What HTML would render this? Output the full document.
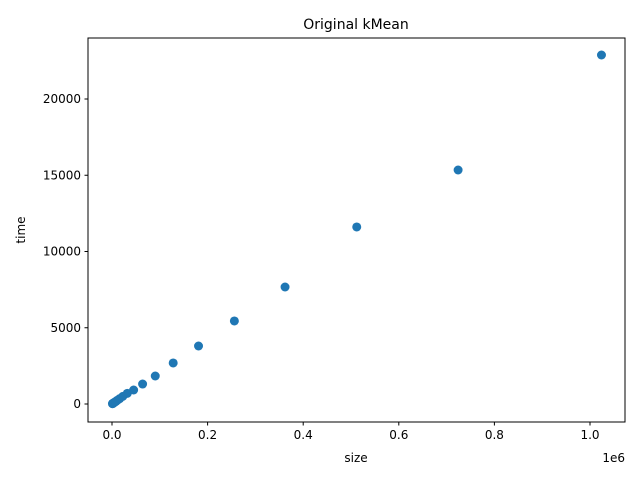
<!DOCTYPE html>
<html><head><meta charset="utf-8"><style>
body{margin:0;background:#fff}
svg{display:block;font-family:"DejaVu Sans","Liberation Sans",sans-serif}
</style></head><body>
<svg id="c" width="640" height="480" xmlns="http://www.w3.org/2000/svg">
<rect width="640" height="480" fill="#fff"/>
<text x="356" y="29" font-size="14" text-anchor="middle">Original kMean</text>
<g id="marks"></g>
<g id="axes"></g>
<rect x="88" y="38" width="537" height="384" fill="none" stroke="#000" stroke-width="1"/>
<text x="356" y="462" font-size="12" text-anchor="middle">size</text>
<text x="25" y="230" font-size="12" text-anchor="middle" transform="rotate(-90 25 230)">time</text>
<text x="625" y="462" font-size="12" text-anchor="end">1e6</text>
</svg>
<script>
const sizes=[1000,1414,2000,2828,4000,5657,8000,11314,16000,22627,32000,45255,64000,90510,128000,181019,256000,362039,512000,724077,1024000];
const times=[20,30,42,60,85,120,170,250,350,500,700,918,1311,1836,2689,3803,5443,7672,11607,15344,22885];
const xTicks=[0,0.2e6,0.4e6,0.6e6,0.8e6,1.0e6];
const xTickLabels=["0.0","0.2","0.4","0.6","0.8","1.0"];
const yTicks=[0,5000,10000,15000,20000];
const yTickLabels=["0","5000","10000","15000","20000"];
const NS="http://www.w3.org/2000/svg";
const X=v=>112+v*478/1e6;
const Y=v=>404-v*305/20000;
const marks=document.getElementById('marks'),axes=document.getElementById('axes');
function mk(t,a,p){const e=document.createElementNS(NS,t);for(const k in a)e.setAttribute(k,a[k]);p.appendChild(e);return e;}
sizes.forEach((s,i)=>{const c=mk('circle',{cx:X(s),cy:Y(times[i]),r:4.5,fill:'#1f77b4'},marks);

});
xTicks.forEach((t,i)=>{const l=mk('line',{x1:X(t),x2:X(t),y1:422,y2:425.5,stroke:'#000'},axes);


const tx=mk('text',{x:X(t),y:439,'font-size':12,'text-anchor':'middle'},axes);tx.textContent=xTickLabels[i];

});
yTicks.forEach((t,i)=>{const l=mk('line',{x1:84.5,x2:88,y1:Y(t),y2:Y(t),stroke:'#000'},axes);


const tx=mk('text',{x:81,y:Y(t)+4,'font-size':12,'text-anchor':'end'},axes);tx.textContent=yTickLabels[i];

});
</script>
</body></html>
